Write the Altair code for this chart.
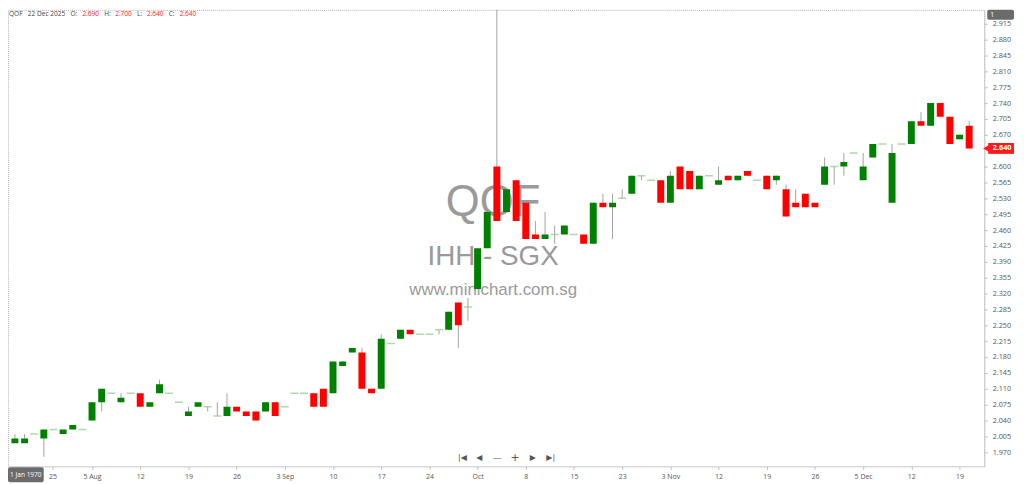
import altair as alt
import pandas as pd

# ---- data ----
opens = [1.99,1.99,2.01,2.00,2.02,2.01,2.02,2.02,2.04,2.08,
         2.10,2.08,2.10,2.10,2.07,2.10,2.10,2.08,2.05,2.07,
         2.07,2.05,2.05,2.07,2.06,2.06,2.06,2.08,2.07,2.10,
         2.10,2.10,2.11,2.10,2.16,2.19,2.19,2.11,2.11,2.21,
         2.22,2.24,2.23,2.23,2.24,2.24,2.30,2.29,2.33,2.42,
         2.60,2.50,2.57,2.52,2.45,2.44,2.45,2.45,2.45,2.45,
         2.43,2.52,2.51,2.53,2.54,2.58,2.57,2.57,2.52,2.60,
         2.59,2.55,2.58,2.56,2.58,2.57,2.59,2.57,2.58,2.57,
         2.55,2.52,2.54,2.52,2.56,2.60,2.60,2.63,2.57,2.62,
         2.65,2.52,2.65,2.65,2.70,2.69,2.74,2.71,2.66,2.69]
highs = [2.01,2.01,2.01,2.02,2.02,2.02,2.03,2.02,2.08,2.11,
         2.10,2.10,2.10,2.10,2.08,2.13,2.10,2.08,2.07,2.08,
         2.07,2.08,2.10,2.07,2.06,2.06,2.08,2.08,2.07,2.10,
         2.10,2.10,2.11,2.17,2.17,2.20,2.20,2.11,2.23,2.21,
         2.24,2.24,2.23,2.23,2.24,2.28,2.30,2.31,2.42,2.50,
         2.95,2.55,2.57,2.52,2.48,2.50,2.47,2.47,2.45,2.45,
         2.52,2.54,2.54,2.55,2.58,2.58,2.57,2.57,2.59,2.60,
         2.59,2.58,2.58,2.60,2.58,2.58,2.59,2.57,2.58,2.58,
         2.56,2.55,2.54,2.52,2.62,2.60,2.63,2.63,2.63,2.65,
         2.65,2.65,2.65,2.70,2.72,2.74,2.74,2.71,2.67,2.70]
lows = [1.99,1.99,2.01,1.96,2.02,2.01,2.02,2.02,2.04,2.06,
        2.10,2.08,2.10,2.07,2.07,2.10,2.10,2.08,2.05,2.07,
        2.06,2.05,2.05,2.06,2.05,2.04,2.06,2.05,2.07,2.10,
        2.10,2.07,2.07,2.10,2.16,2.19,2.11,2.10,2.11,2.21,
        2.22,2.23,2.23,2.23,2.23,2.24,2.20,2.26,2.33,2.42,
        2.48,2.50,2.48,2.44,2.44,2.44,2.43,2.45,2.45,2.43,
        2.43,2.51,2.44,2.53,2.54,2.57,2.57,2.52,2.52,2.55,
        2.55,2.55,2.58,2.56,2.57,2.57,2.58,2.57,2.55,2.56,
        2.49,2.51,2.51,2.51,2.56,2.56,2.58,2.63,2.57,2.62,
        2.65,2.52,2.65,2.65,2.69,2.69,2.71,2.65,2.66,2.64]
closes = [2.00,2.00,2.01,2.02,2.02,2.02,2.03,2.02,2.08,2.11,
          2.10,2.09,2.10,2.07,2.08,2.12,2.10,2.08,2.06,2.08,
          2.07,2.05,2.07,2.06,2.05,2.04,2.08,2.05,2.07,2.10,
          2.10,2.07,2.07,2.17,2.17,2.20,2.11,2.10,2.22,2.21,
          2.24,2.23,2.23,2.23,2.24,2.28,2.25,2.29,2.42,2.50,
          2.48,2.55,2.48,2.44,2.44,2.45,2.45,2.47,2.45,2.43,
          2.52,2.51,2.52,2.53,2.58,2.58,2.57,2.52,2.58,2.55,
          2.55,2.58,2.58,2.57,2.57,2.58,2.58,2.57,2.55,2.58,
          2.49,2.51,2.51,2.51,2.60,2.60,2.61,2.63,2.60,2.65,
          2.65,2.63,2.65,2.70,2.69,2.74,2.71,2.65,2.67,2.64]

x_tick_pos = [3.9, 8, 13, 18, 23, 28, 33, 38, 43, 48, 53, 58, 63, 68, 73, 78, 83, 88, 93, 98]
x_tick_lab = ["25", "5 Aug", "12", "19", "26", "3 Sep", "10", "17", "24", "Oct",
              "8", "15", "23", "3 Nov", "12", "19", "26", "5 Dec", "12", "19"]
y_ticks = [1.970, 2.005, 2.040, 2.075, 2.110, 2.145, 2.180, 2.215, 2.250, 2.285,
           2.320, 2.355, 2.390, 2.425, 2.460, 2.495, 2.530, 2.565, 2.600,
           2.670, 2.705, 2.740, 2.775, 2.810, 2.845, 2.880, 2.915]

symbol = "QOF"
last_date = "22 Dec 2025"
wm_lines = ["QOF", "IHH - SGX", "www.minichart.com.sg"]

# ---- frame ----
df = pd.DataFrame({"i": list(range(len(opens))), "o": opens, "h": highs, "l": lows, "c": closes})
df["dir"] = ["up" if c > o else ("down" if c < o else "flat") for o, c in zip(opens, closes)]

W, H = 984, 460
xs = alt.Scale(domain=[-0.204, 100.05], nice=False, zero=False)
ys = alt.Scale(domain=[1.939, 2.9456], nice=False, zero=False)

FONT = "Open Sans"
GRAY = "#555555"

label_expr = ("[" + ",".join("'%s'" % t for t in x_tick_lab) + "][indexof(["
              + ",".join(str(p) for p in x_tick_pos) + "], datum.value)]")

X_AXIS = alt.Axis(
    values=x_tick_pos, labelExpr=label_expr, title=None, grid=False,
    orient="bottom", tickSize=3, tickColor="#bbbbbb", domainColor="#d4d4d4",
    labelFontSize=7, labelColor=GRAY, labelFont=FONT, labelPadding=3,
    labelFlush=False, labelOverlap=False)
Y_AXIS = alt.Axis(
    values=y_ticks, format=".3f", title=None, grid=False, orient="right",
    tickSize=3, tickColor="#bbbbbb", domainColor="#c8c8c8",
    labelFontSize=7.3, labelColor=GRAY, labelFont=FONT, labelPadding=5,
    labelFlush=False, labelOverlap=False)

base = alt.Chart(df)

wicks = base.mark_rule(color="#a3a3a3", strokeWidth=1, clip=True).encode(
    x=alt.X("i:Q", scale=xs, axis=X_AXIS),
    y=alt.Y("l:Q", scale=ys, axis=Y_AXIS),
    y2="h:Q",
)

dojis = base.transform_filter("datum.dir == 'flat'").mark_tick(
    orient="horizontal", size=8, thickness=1.5, color="#86cc86", clip=True
).encode(
    x=alt.X("i:Q", scale=xs, axis=X_AXIS),
    y=alt.Y("o:Q", scale=ys, axis=Y_AXIS),
)

bodies = base.transform_filter("datum.dir != 'flat'").mark_bar(size=7, clip=True).encode(
    x=alt.X("i:Q", scale=xs, axis=X_AXIS),
    y=alt.Y("o:Q", scale=ys, axis=Y_AXIS),
    y2="c:Q",
    color=alt.Color("dir:N", scale=alt.Scale(domain=["up", "down"], range=["#008000", "#ff0000"]), legend=None),
)

one = alt.Data(values=[{"k": 0}])


def txt(t, x, y, size, color, align="center", baseline="middle", font=FONT, weight="normal"):
    return alt.Chart(one).mark_text(
        text=t, fontSize=size, color=color, align=align, baseline=baseline, font=font, fontWeight=weight
    ).encode(x=alt.value(x), y=alt.value(y))


# watermark
wm = [
    txt(wm_lines[0], 489, 195, 44, "#9a9a9a", font="Liberation Sans"),
    txt(wm_lines[1], 489, 249, 28, "#9a9a9a", font="Liberation Sans"),
    txt(wm_lines[2], 489, 282, 17, "#9a9a9a", font="Liberation Sans"),
]

# header
red = "#ff1a1a"
dark = "#444444"
hdr_items = [
    (symbol, 1, dark), (last_date, 20, dark),
    ("O:", 63, dark), ("%.3f" % opens[-1], 75, red),
    ("H:", 97, dark), ("%.3f" % highs[-1], 108, red),
    ("L:", 130, dark), ("%.3f" % lows[-1], 140, red),
    ("C:", 162, dark), ("%.3f" % closes[-1], 173, red),
]
hdr = [txt(t, x, 1, 6.6, col, align="left", baseline="top") for t, x, col in hdr_items]

# last price tag
tag_df = pd.DataFrame({"p": [closes[-1]], "t": ["%.3f" % closes[-1]]})
tagc = alt.Chart(tag_df)
tag_rule = tagc.mark_rule(color="#ff1a1a", strokeWidth=11).encode(
    x=alt.value(988), x2=alt.value(1014), y=alt.Y("p:Q", scale=ys, axis=Y_AXIS))
tag_tri = tagc.mark_point(shape="triangle-left", filled=True, size=55, color="#ff1a1a", opacity=1).encode(
    x=alt.value(986), y=alt.Y("p:Q", scale=ys, axis=Y_AXIS))
tag_txt = tagc.mark_text(color="white", fontSize=7.3, font=FONT, fontWeight="bold").encode(
    x=alt.value(1002), y=alt.Y("p:Q", scale=ys, axis=Y_AXIS), text="t:N")

# corner boxes
box1 = alt.Chart(one).mark_rect(color="#6b6b6b", cornerRadius=2).encode(
    x=alt.value(987), x2=alt.value(1014), y=alt.value(0), y2=alt.value(10))
box1t = txt("1", 990, 5, 7, "white", align="left")
box2 = alt.Chart(one).mark_rect(color="#6b6b6b", cornerRadius=2).encode(
    x=alt.value(0), x2=alt.value(36), y=alt.value(461), y2=alt.value(476))
box2t = txt("1 Jan 1970", 18, 468.5, 6.6, "white")

# navigation icons
nav = [
    txt("|◀", 458, 452, 8, GRAY, font="DejaVu Sans"),
    txt("◀", 475, 452, 8, GRAY, font="DejaVu Sans"),
    txt("—", 493, 452, 9, GRAY, font="DejaVu Sans"),
    txt("+", 511, 452, 11, GRAY, font="DejaVu Sans"),
    txt("▶", 529, 452, 8, GRAY, font="DejaVu Sans"),
    txt("▶|", 547, 452, 8, GRAY, font="DejaVu Sans"),
]

chart = alt.layer(
    *wm, wicks, dojis, bodies, *hdr, tag_rule, tag_tri, tag_txt, box1, box1t, box2, box2t, *nav
).properties(
    width=W, height=H,
    autosize=alt.AutoSizeParams(type="none"),
    padding={"left": 0, "top": 0, "right": 32, "bottom": 16},
    background="white",
).configure_view(
    stroke="#b5b5b5", strokeDash=[1, 1], strokeWidth=1
)

chart.save("out.html", embed_options={"renderer": "svg", "actions": False})
